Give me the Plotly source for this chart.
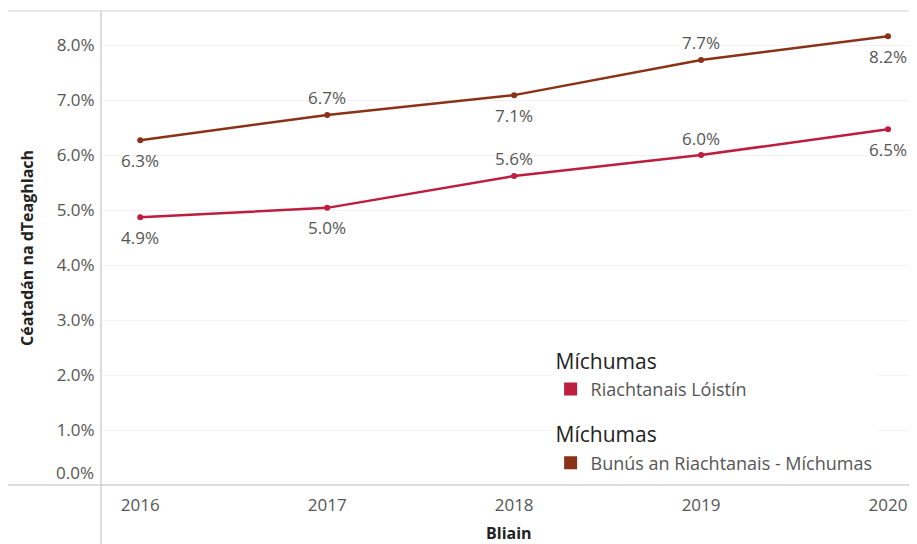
import plotly.graph_objects as go

years = [2016, 2017, 2018, 2019, 2020]
series_names = ["Riachtanais Lóistín", "Bunús an Riachtanais - Míchumas"]
riachtanais = [0.0487, 0.0504, 0.0562, 0.0600, 0.0647]
bunus = [0.0627, 0.0673, 0.0709, 0.0773, 0.0816]
red_pos = ["below", "below", "above", "above", "below"]
brown_pos = ["below", "above", "below", "above", "below"]
y_ticks = [0.01, 0.02, 0.03, 0.04, 0.05, 0.06, 0.07, 0.08]
legend_title = "Míchumas"

RED = "#BD1D3F"
BROWN = "#8A3218"
FONT = "Open Sans, Lato, sans-serif"
TXT = "#555"

# page body has an ~8px margin; compensate so the plot lands where the reference has it
OFF = 8
W, H = 917 - OFF, 544 - OFF
L, T, B = 101 - OFF, 11 - OFF, 59

fig = go.Figure()
for vals, col in [(riachtanais, RED), (bunus, BROWN)]:
    fig.add_trace(go.Scatter(x=years, y=vals, mode="lines+markers",
                             line=dict(color=col, width=2.5),
                             marker=dict(color=col, size=6),
                             showlegend=False, hoverinfo="skip"))

for name, col, grp in [(series_names[0], RED, "a"), (series_names[1], BROWN, "b")]:
    fig.add_trace(go.Scatter(x=[None], y=[None], mode="markers", name=name,
                             marker=dict(color=col, size=13, symbol="square"),
                             legendgroup=grp,
                             legendgrouptitle=dict(text=legend_title,
                                                   font=dict(size=21, color="#222", family=FONT))))

ann = []
for vals, pos in [(riachtanais, red_pos), (bunus, brown_pos)]:
    for x, v, p in zip(years, vals, pos):
        ann.append(dict(x=x, y=v, xref="x", yref="y", text=f"{v*100:.1f}%",
                        showarrow=False, yshift=(17 if p == "above" else -20),
                        font=dict(size=17, color=TXT, family=FONT)))
ann.append(dict(x=0, y=0, xref="paper", yref="y", text="0.0%", showarrow=False,
                xanchor="right", xshift=-5, yshift=13,
                font=dict(size=17, color=TXT, family=FONT)))
ann.append(dict(x=0, y=0.5, xref="paper", yref="paper", text="<b>Céatadán na dTeaghlach</b>",
                showarrow=False, textangle=-90, xanchor="center", yanchor="middle",
                xshift=-74, font=dict(size=16, color="#222", family=FONT)))
ann.append(dict(x=0.5, y=0, xref="paper", yref="paper", text="<b>Bliain</b>",
                showarrow=False, xanchor="center", yanchor="middle",
                yshift=-48, font=dict(size=16, color="#222", family=FONT)))

shapes = [
    dict(type="line", xref="paper", yref="paper", x0=-0.12, x1=1, y0=1, y1=1,
         line=dict(color="#d0d0d0", width=1)),
    dict(type="line", xref="paper", yref="paper", x0=-0.12, x1=1, y0=0, y1=0,
         line=dict(color="#d0d0d0", width=1.5)),
    dict(type="line", xref="paper", yref="paper", x0=0, x1=0, y0=-0.13, y1=1,
         line=dict(color="#d0d0d0", width=1.5)),
]

fig.update_layout(
    width=W, height=H,
    margin=dict(l=L, r=0, t=T, b=B),
    paper_bgcolor="white", plot_bgcolor="white",
    font=dict(family=FONT, color=TXT),
    annotations=ann, shapes=shapes,
    legend=dict(x=0.551, y=0.305, xanchor="left", yanchor="top",
                bgcolor="white", traceorder="grouped", tracegroupgap=17,
                font=dict(size=18, color=TXT, family=FONT),
                itemwidth=30),
    xaxis=dict(range=[2015.79, 2020.155], tickvals=years, ticktext=[str(y) for y in years],
               showgrid=False, zeroline=False, showline=False, ticks="outside",
               ticklen=5, tickcolor="rgba(0,0,0,0)",
               tickfont=dict(size=17, color=TXT, family=FONT)),
    yaxis=dict(range=[0, 0.0862], tickvals=y_ticks, tickformat=".1%",
               showgrid=True, gridcolor="#f2f2f2", gridwidth=1,
               zeroline=False, showline=False, ticks="outside", ticklen=2,
               tickcolor="rgba(0,0,0,0)",
               tickfont=dict(size=17, color=TXT, family=FONT)),
)

fig.write_html("out.html")
